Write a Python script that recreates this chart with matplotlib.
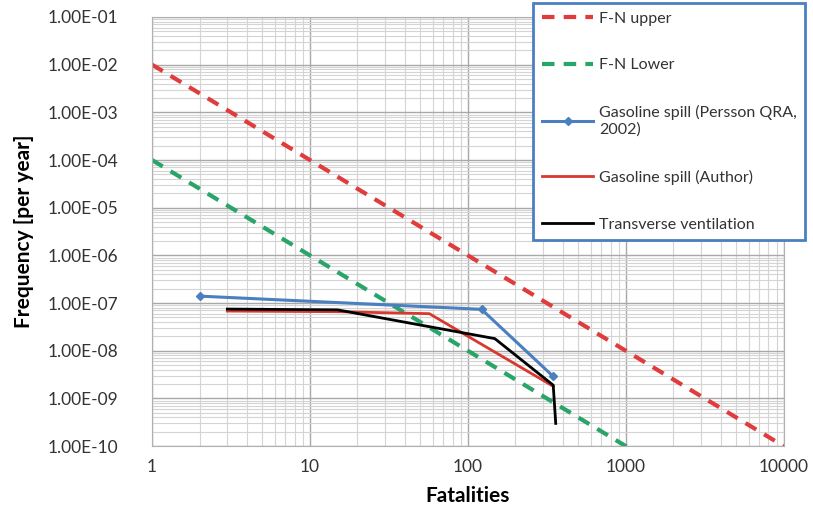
import numpy as np
import matplotlib.pyplot as plt
from matplotlib.ticker import LogLocator, FixedLocator, FuncFormatter

plt.rcParams['font.family'] = ['Lato', 'DejaVu Sans']

# F-N criterion lines (frequency = C / N^2)
fn_n = [1, 10000]
fn_upper = [1e-2, 1e-10]
fn_lower = [1e-4, 1e-12]

# Gasoline spill (Persson QRA, 2002)
persson_n = [2, 122, 347]
persson_f = [1.4e-7, 7.4e-8, 2.9e-9]

# Gasoline spill (Author)
author_n = [3, 15, 57, 347]
author_f = [6.8e-8, 6.6e-8, 6.0e-8, 1.8e-9]

# Transverse ventilation
transv_n = [3, 15, 57, 148, 347, 360]
transv_f = [7.5e-8, 7.2e-8, 3.2e-8, 1.8e-8, 1.9e-9, 3.0e-10]

fig = plt.figure(figsize=(8.13, 5.14), dpi=100)
ax = fig.add_axes([0.187, 0.132, 0.777, 0.835])

ax.plot(fn_n, fn_upper, color='#e03c3c', lw=3, ls=(0, (3, 2.2)), label='F-N upper')
ax.plot(fn_n, fn_lower, color='#2aa56a', lw=3, ls=(0, (3, 2.2)), label='F-N Lower')
ax.plot(persson_n, persson_f, color='#4a7fc0', lw=2.2, marker='D', ms=4,
        label='Gasoline spill (Persson QRA,\n2002)')
ax.plot(author_n, author_f, color='#d9382e', lw=2, label='Gasoline spill (Author)')
ax.plot(transv_n, transv_f, color='black', lw=2, label='Transverse ventilation')

ax.set_xscale('log')
ax.set_yscale('log')
ax.set_xlim(1, 10000)
ax.set_ylim(1e-10, 1e-1)

ax.xaxis.set_major_locator(FixedLocator([1, 10, 100, 1000, 10000]))
ax.xaxis.set_major_formatter(FuncFormatter(lambda v, p: '%d' % round(v)))
ax.xaxis.set_minor_locator(LogLocator(base=10, subs=np.arange(2, 10)))
ax.yaxis.set_major_locator(FixedLocator([10.0 ** k for k in range(-10, 0)]))
ax.yaxis.set_major_formatter(FuncFormatter(lambda v, p: ('%.2E' % v)))
ax.yaxis.set_minor_locator(LogLocator(base=10, subs=np.arange(2, 10), numticks=20))

ax.grid(which='major', color='#a8a8a8', lw=1.0)
ax.grid(which='minor', color='#d4d4d4', lw=0.8)
ax.tick_params(which='both', length=0)
ax.tick_params(axis='both', labelsize=12.5, colors='#333333')
ax.tick_params(axis='y', pad=24)
ax.tick_params(axis='x', pad=9)
for s in ax.spines.values():
    s.set_color('#b0b0b0')

ax.set_xlabel('Fatalities', fontsize=15, fontweight='bold', labelpad=8)
ax.set_ylabel('Frequency [per year]', fontsize=15, fontweight='bold', labelpad=10)

leg = fig.legend(loc='upper left', bbox_to_anchor=(0.656, 0.995), fontsize=11.5,
                 handlelength=3.2, labelspacing=2.05, borderpad=0.55,
                 fancybox=False, framealpha=1, handletextpad=0.35,
                 borderaxespad=0)
leg.get_frame().set_edgecolor('#4a7fc0')
leg.get_frame().set_linewidth(2)
for t in leg.get_texts():
    t.set_color('#333333')

fig.savefig('out.png', dpi=100)
